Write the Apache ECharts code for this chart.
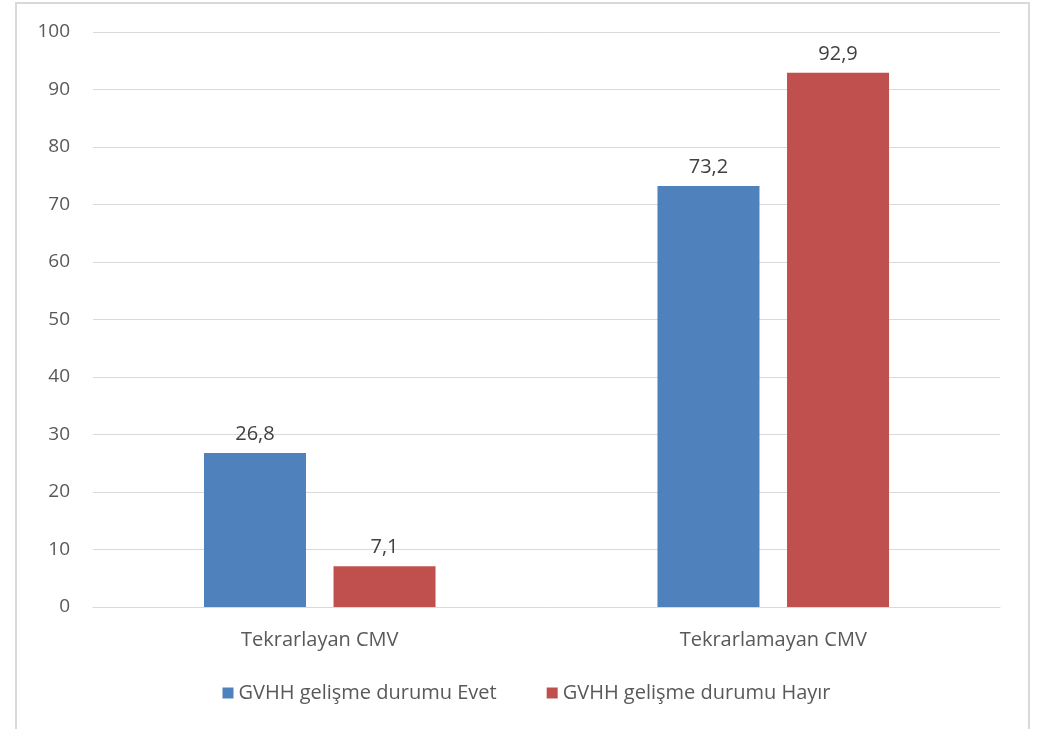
<!DOCTYPE html>
<html>
<head>
<meta charset="utf-8">
<script src="https://cdn.jsdelivr.net/npm/echarts@6/dist/echarts.min.js"></script>
<style>
  html, body { margin: 0; padding: 0; background: #fff; }
  #chart { width: 1053px; height: 729px; }
</style>
</head>
<body>
<div id="chart"></div>
<script>
// Categories and series values
const categories = ['Tekrarlayan CMV', 'Tekrarlamayan CMV'];
const seriesNames = ['GVHH gelişme durumu Evet', 'GVHH gelişme durumu Hayır'];
const evetValues = [26.8, 73.2];
const hayirValues = [7.1, 92.9];

const fontFamily = '"Open Sans", "Liberation Sans", Arial, sans-serif';
const textColor = '#595959';

const chart = echarts.init(document.getElementById('chart'));

const labelOpt = {
  show: true,
  position: 'top',
  distance: 9,
  color: '#404040',
  fontFamily: fontFamily,
  fontSize: 20,
  formatter: p => String(p.value).replace('.', ',')
};

chart.setOption({
  animation: false,
  graphic: [{
    type: 'rect',
    shape: { x: 16, y: 3, width: 1013, height: 800 },
    style: { fill: 'none', stroke: '#D9D9D9', lineWidth: 2 },
    silent: true
  }],
  grid: { left: 93, right: 53, top: 32, bottom: 122, containLabel: false },
  legend: {
    bottom: 21,
    left: 'center',
    itemWidth: 11,
    itemHeight: 11,
    itemGap: 50,
    icon: 'rect',
    textStyle: { color: textColor, fontFamily: fontFamily, fontSize: 20 },
    data: seriesNames
  },
  xAxis: {
    type: 'category',
    data: categories,
    axisLine: { lineStyle: { color: '#D9D9D9', width: 1 } },
    axisTick: { show: false },
    axisLabel: { color: textColor, fontFamily: fontFamily, fontSize: 20, margin: 23 }
  },
  yAxis: {
    type: 'value',
    min: 0,
    max: 100,
    interval: 10,
    axisLine: { show: false },
    axisTick: { show: false },
    axisLabel: { color: textColor, fontFamily: fontFamily, fontSize: 19, margin: 23 },
    splitLine: { lineStyle: { color: '#D9D9D9', width: 1 } }
  },
  series: [
    {
      name: seriesNames[0],
      type: 'bar',
      data: evetValues,
      barWidth: 102,
      barGap: '27%',
      itemStyle: { color: '#4F81BD' },
      label: labelOpt
    },
    {
      name: seriesNames[1],
      type: 'bar',
      data: hayirValues,
      barWidth: 102,
      itemStyle: { color: '#C0504D' },
      label: labelOpt
    }
  ]
});
</script>
</body>
</html>
